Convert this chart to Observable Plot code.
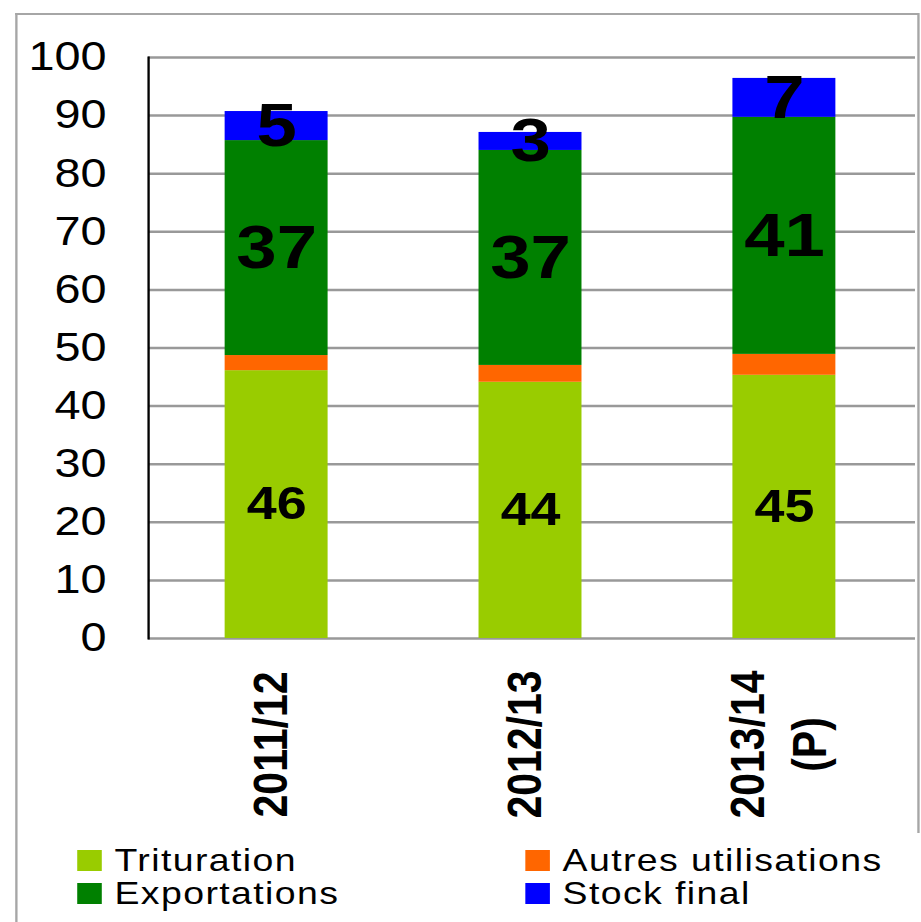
<!DOCTYPE html>
<html><head><meta charset="utf-8">
<script src="https://cdn.jsdelivr.net/npm/d3@7"></script>
<script src="https://cdn.jsdelivr.net/npm/@observablehq/plot@0.6"></script>
<style>
html,body{margin:0;padding:0;background:#fff;overflow:hidden;width:921px;height:922px}
#wrap{position:absolute;left:0;top:0;width:788px;height:922px;transform:scaleX(1.17);transform-origin:0 0;font-family:"Liberation Sans",Arial,sans-serif}
#frame{position:absolute;left:12.8px;top:13px;width:770px;height:1000px;border-top:2px solid #a6a6a6;border-left:2px solid #a6a6a6}
#rline{position:absolute;left:783.6px;top:13px;width:2px;height:820px;background:#a6a6a6}
#chart{position:absolute;left:0;top:0}
#legend{position:absolute;left:65.8px;top:843.5px;display:grid;grid-template-columns:383px auto;grid-auto-rows:33px;font-size:32px;letter-spacing:1.2px;color:#000}
#legend .it{display:flex;align-items:center;white-space:nowrap;line-height:33px}
#legend .sw{width:21px;height:21px;margin-right:11px;flex:none}
</style></head>
<body>
<div id="wrap"><div id="frame"></div><div id="rline"></div><div id="chart"></div><div id="legend"></div></div>
<script>
const years = ["2011/12", "2012/13", "2013/14\n(P)"];
const series = ["Trituration", "Autres utilisations", "Exportations", "Stock final"];
const trituration = [46.1, 44.1, 45.3];
const autres = [2.6, 2.9, 3.6];
const exportations = [37.0, 37.0, 40.8];
const stock = [5.0, 3.1, 6.7];
const yTicks = [0, 10, 20, 30, 40, 50, 60, 70, 80, 90, 100];
const colors = ["#99CC00", "#FF6600", "#008000", "#0000FF"];
const legendOrder = ["Trituration", "Autres utilisations", "Exportations", "Stock final"];

const valuesBySeries = [trituration, autres, exportations, stock];
const rows = [];
years.forEach((yr, i) => series.forEach((s, j) => rows.push({year: yr, series: s, value: valuesBySeries[j][i]})));

const S = 1.17;
const W = 921 / S;
const H = 830;
const chart = Plot.plot({
  width: W, height: H,
  marginLeft: 148 / S, marginRight: W - 915 / S, marginTop: 57, marginBottom: H - 638,
  style: {fontFamily: '"Liberation Sans", Arial, sans-serif', background: "transparent", overflow: "visible"},
  x: {domain: years, range: [148 / S, 911.5 / S], paddingInner: 0.595, paddingOuter: 0.2975},
  y: {domain: [0, 100]},
  color: {domain: series, range: colors},
  marks: [
    Plot.ruleY(yTicks, {stroke: "#999999", strokeWidth: 2.5}),
    Plot.barY(rows, {x: "year", y: "value", fill: "series"}),
    Plot.text(rows, Plot.stackY({
      x: "year", y: "value",
      text: d => d.series === "Autres utilisations" ? "" : String(Math.round(d.value)),
      fontSize: d => d.series === "Trituration" ? 46 : 62,
      fontWeight: "bold", fill: "#000"
    })),
    Plot.frame({anchor: "left", stroke: "#000", strokeWidth: 2}),
    Plot.axisY({ticks: yTicks, tickSize: 0, tickPadding: 36, fontSize: 40, label: null}),
    Plot.axisX({tickSize: 0, tickRotate: -90, textAnchor: "middle", lineAnchor: "middle", tickPadding: 106, dx: -8, fontSize: 41, fontWeight: "bold", lineHeight: 1.3, label: null})
  ]
});
document.getElementById("chart").appendChild(chart);

const leg = document.getElementById("legend");
legendOrder.forEach(s => {
  const it = document.createElement("div");
  it.className = "it";
  const sw = document.createElement("span");
  sw.className = "sw";
  sw.style.background = colors[series.indexOf(s)];
  const t = document.createElement("span");
  t.textContent = s;
  it.appendChild(sw); it.appendChild(t);
  leg.appendChild(it);
});
</script>
</body></html>
